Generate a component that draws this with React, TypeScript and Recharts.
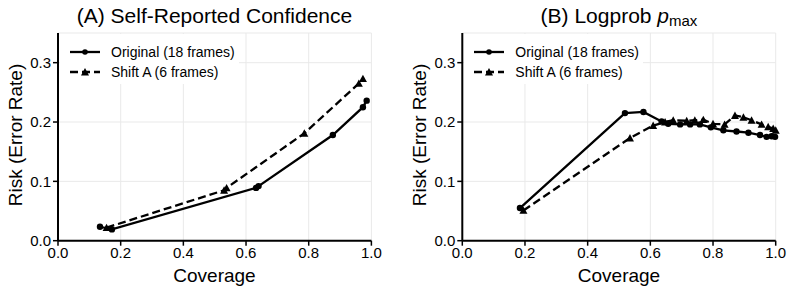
import { CartesianGrid, Legend, Line, LineChart, XAxis, YAxis } from "recharts";

const FONT = '"Liberation Sans", Arial, Helvetica, sans-serif';

// axes
const coverageTicks = [0, 0.2, 0.4, 0.6, 0.8, 1.0];
const riskTicks = [0, 0.1, 0.2, 0.3];
const seriesNames = ["Original (18 frames)", "Shift A (6 frames)"];

// (A) Self-Reported Confidence
const confOrigCoverage = [0.134, 0.172, 0.632, 0.64, 0.877, 0.973, 0.985];
const confOrigRisk = [0.0235, 0.019, 0.089, 0.092, 0.178, 0.225, 0.236];
const confShiftCoverage = [0.155, 0.53, 0.538, 0.786, 0.96, 0.973];
const confShiftRisk = [0.022, 0.085, 0.089, 0.181, 0.265, 0.273];

// (B) Logprob p_max
const logpOrigCoverage = [0.184, 0.519, 0.578, 0.636, 0.657, 0.695, 0.727, 0.758, 0.793, 0.833, 0.875, 0.913, 0.95, 0.971, 0.987, 0.998];
const logpOrigRisk = [0.055, 0.215, 0.217, 0.201, 0.197, 0.196, 0.196, 0.196, 0.191, 0.186, 0.184, 0.182, 0.178, 0.175, 0.176, 0.175];
const logpShiftCoverage = [0.195, 0.535, 0.609, 0.647, 0.673, 0.716, 0.742, 0.769, 0.8, 0.837, 0.87, 0.897, 0.923, 0.955, 0.976, 0.992, 1.0];
const logpShiftRisk = [0.051, 0.173, 0.194, 0.2, 0.203, 0.202, 0.203, 0.204, 0.197, 0.196, 0.211, 0.208, 0.203, 0.196, 0.192, 0.189, 0.186];

const zip = (xs: number[], ys: number[]) => xs.map((coverage, i) => ({ coverage, risk: ys[i] }));

const DASH = "8 4";
const LINE_W = 2.3;

function TriangleDot(props: any) {
  const { cx, cy } = props;
  if (cx == null || cy == null) return null;
  const s = 4;
  return <path d={`M${cx},${cy - s} L${cx + s},${cy + s * 0.85} L${cx - s},${cy + s * 0.85} Z`} fill="#000" />;
}

function LegendBox() {
  const row = (i: number) => (
    <div key={i} style={{ display: "flex", alignItems: "center", height: 20 }}>
      <svg width={30} height={20} style={{ marginRight: 11 }}>
        <line x1={0} x2={30} y1={10} y2={10} stroke="#000" strokeWidth={LINE_W} strokeDasharray={i === 0 ? undefined : DASH} />
        {i === 0 ? <circle cx={15} cy={10} r={2.8} fill="#000" /> : <TriangleDot cx={15} cy={10} />}
      </svg>
      <span>{seriesNames[i]}</span>
    </div>
  );
  return (
    <div style={{ background: "#fff", padding: "8px 4px 2px 10px", fontFamily: FONT, fontSize: 14, color: "#000", lineHeight: "20px" }}>
      {row(0)}
      {row(1)}
    </div>
  );
}

function Panel({ orig, shift, marginLeft, marginRight }: { orig: any[]; shift: any[]; marginLeft: number; marginRight: number }) {
  const width = marginLeft + 40 + 313.4 + marginRight;
  return (
    <LineChart width={width} height={293} margin={{ top: 33, right: marginRight, left: marginLeft, bottom: 22.3 }}>
      <CartesianGrid stroke="#e9e9e9" strokeWidth={1} />
      <XAxis
        type="number"
        dataKey="coverage"
        domain={[0, 1]}
        ticks={coverageTicks}
        interval={0}
        height={30}
        tickFormatter={(v: number) => v.toFixed(1)}
        tick={{ fill: "#000", fontSize: 15, fontFamily: FONT }}
        tickSize={5}
        tickMargin={2}
        tickLine={{ stroke: "#000", strokeWidth: 1.5 }}
        axisLine={{ stroke: "#000", strokeWidth: 2 }}
      />
      <YAxis
        type="number"
        domain={[0, 0.35]}
        ticks={riskTicks}
        interval={0}
        width={40}
        tickFormatter={(v: number) => v.toFixed(1)}
        tick={{ fill: "#000", fontSize: 15, fontFamily: FONT }}
        tickSize={5}
        tickMargin={2}
        tickLine={{ stroke: "#000", strokeWidth: 1.5 }}
        axisLine={{ stroke: "#000", strokeWidth: 2 }}
      />
      <Legend
        layout="vertical"
        align="center"
        verticalAlign="middle"
        content={() => <LegendBox />}
        wrapperStyle={{ top: 33.7, left: marginLeft + 42, width: "auto" }}
      />
      <Line
        data={orig}
        dataKey="risk"
        name={seriesNames[0]}
        stroke="#000"
        strokeWidth={LINE_W}
        dot={{ r: 3.2, fill: "#000", stroke: "none" }}
        isAnimationActive={false}
      />
      <Line
        data={shift}
        dataKey="risk"
        name={seriesNames[1]}
        stroke="#000"
        strokeWidth={LINE_W}
        strokeDasharray={DASH}
        dot={(p: any) => <TriangleDot key={`t-${p.index}`} {...p} />}
        isAnimationActive={false}
      />
    </LineChart>
  );
}

export default function App() {
  const text = { fontFamily: FONT, fill: "#000" };
  return (
    <div style={{ position: "fixed", left: 0, top: 0, width: 793, height: 293, background: "#fff" }}>
      <div style={{ position: "absolute", left: 0, top: 0 }}>
        <Panel orig={zip(confOrigCoverage, confOrigRisk)} shift={zip(confShiftCoverage, confShiftRisk)} marginLeft={18} marginRight={25} />
      </div>
      <div style={{ position: "absolute", left: 396, top: 0 }}>
        <Panel orig={zip(logpOrigCoverage, logpOrigRisk)} shift={zip(logpShiftCoverage, logpShiftRisk)} marginLeft={26.3} marginRight={17.3} />
      </div>
      <svg width={793} height={293} style={{ position: "absolute", left: 0, top: 0, pointerEvents: "none" }}>
        <text x={214.5} y={23} textAnchor="middle" fontSize={21} {...text}>(A) Self-Reported Confidence</text>
        <text x={619} y={23} textAnchor="middle" fontSize={21} {...text}>
          (B) Logprob <tspan fontStyle="italic">p</tspan>
          <tspan fontSize={15} dy={3}>max</tspan>
        </text>
        <text x={214.5} y={282} textAnchor="middle" fontSize={19} {...text}>Coverage</text>
        <text x={619} y={282} textAnchor="middle" fontSize={19} {...text}>Coverage</text>
        <text x={21.5} y={135} textAnchor="middle" fontSize={19} transform="rotate(-90 21.5 135)" {...text}>Risk (Error Rate)</text>
        <text x={426} y={135} textAnchor="middle" fontSize={19} transform="rotate(-90 426 135)" {...text}>Risk (Error Rate)</text>
      </svg>
    </div>
  );
}
